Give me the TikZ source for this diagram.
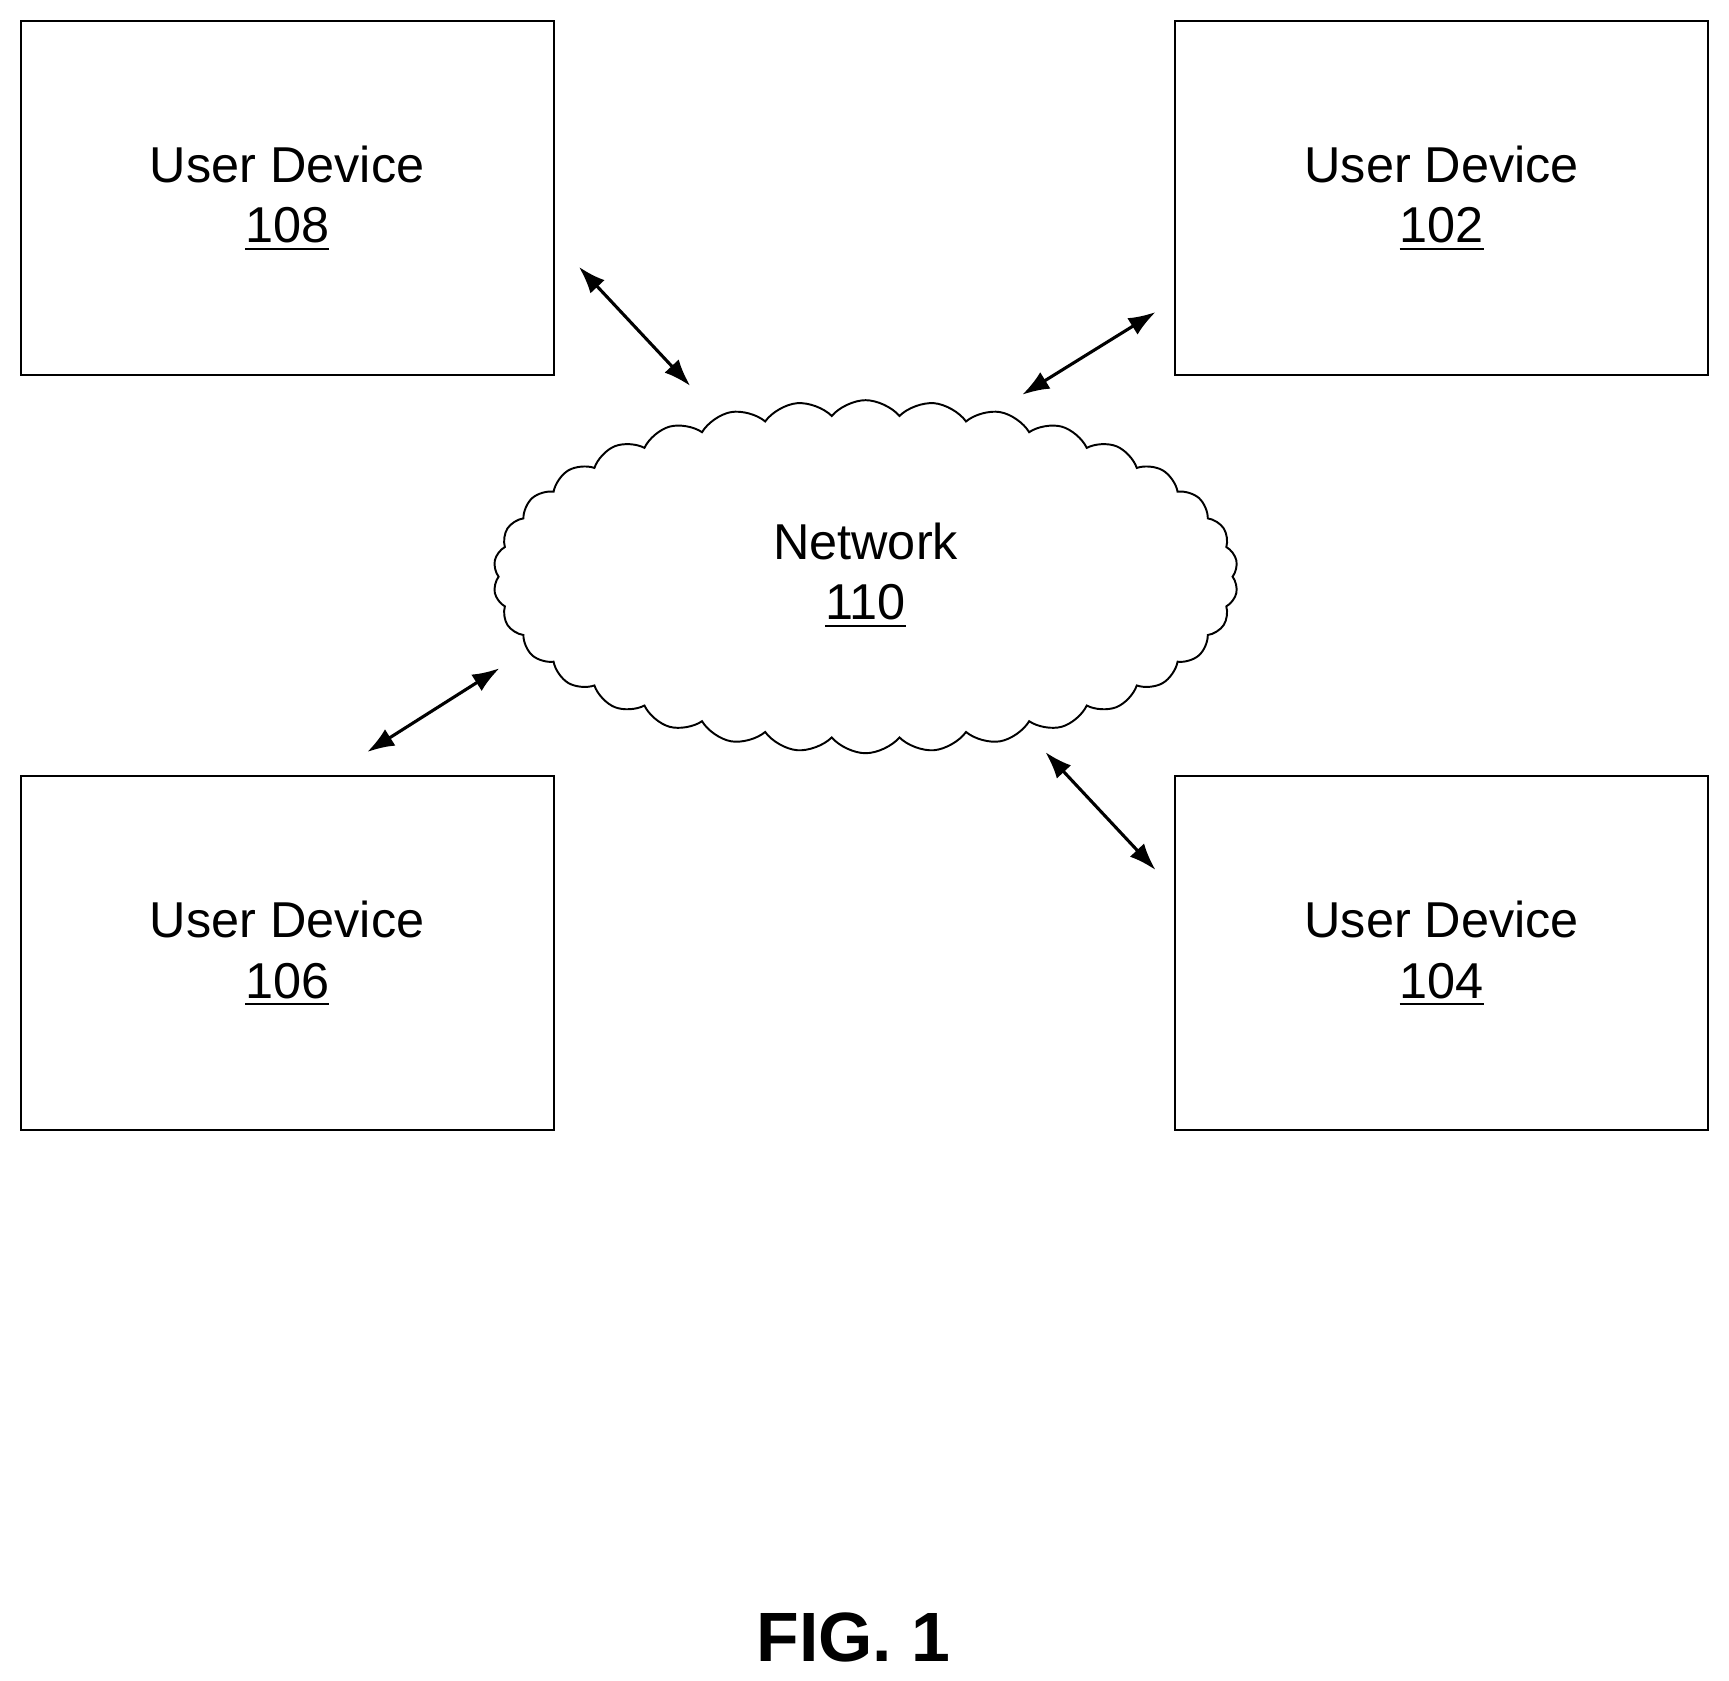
\documentclass[tikz,border=0pt]{standalone}
\usepackage{fontspec}
\setmainfont{Liberation Sans}
\usetikzlibrary{shapes.symbols,arrows.meta}
\begin{document}
\begin{tikzpicture}[x=0.01cm,y=-0.01cm,
  box/.style={draw,line width=0.5pt,minimum width=4.83cm,minimum height=3.21cm},
  lbl/.style={font=\fontsize{13}{15.6}\selectfont,align=center},
  link/.style={{Latex[length=7pt,width=5pt]}-{Latex[length=7pt,width=5pt]},line width=0.8pt}]
\useasboundingbox (0,0) rectangle (1568,1524);
\node[box] (b108) at (260.5,179.5) {};
\node[box] (b102) at (1307.5,179.5) {};
\node[box] (b106) at (260.5,864.5) {};
\node[box] (b104) at (1307.5,864.5) {};
\node[lbl] (t108) at (260.5,180) {User Device\\\underline{108}};
\node[lbl] (t102) at (1307.5,180) {User Device\\\underline{102}};
\node[lbl] (t106) at (260.5,865) {User Device\\\underline{106}};
\node[lbl] (t104) at (1307.5,865) {User Device\\\underline{104}};
\node[cloud,draw,line width=0.5pt,cloud puffs=34,cloud puff arc=100,minimum width=6.75cm,minimum height=3.2cm,inner sep=0pt] (net) at (785,523) {};
\node[lbl] (tnet) at (785,522) {Network\\\underline{110}};
\coordinate (a1) at (525,242); \coordinate (a2) at (626,350);
\coordinate (c1) at (1048,283); \coordinate (c2) at (927,358);
\coordinate (d1) at (453,606); \coordinate (d2) at (333,682);
\coordinate (e1) at (948,682); \coordinate (e2) at (1048,789);
\draw[link] (a1) -- (a2);
\draw[link] (c1) -- (c2);
\draw[link] (d1) -- (d2);
\draw[link] (e1) -- (e2);
\node[font=\fontsize{18}{22}\selectfont\bfseries] (fig) at (774,1485) {FIG. 1};
\end{tikzpicture}
\end{document}
